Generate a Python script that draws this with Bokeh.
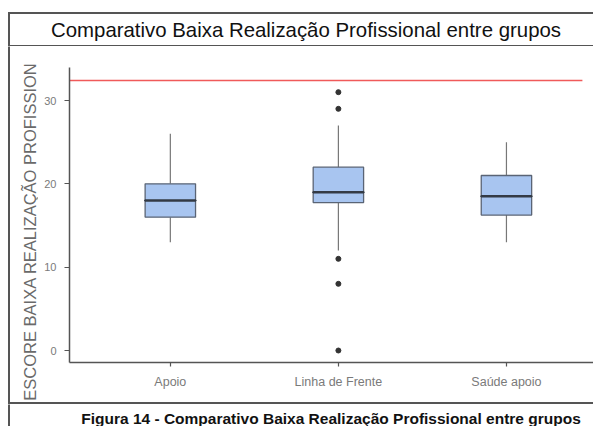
import math
from bokeh.plotting import figure
from bokeh.layouts import column, row
from bokeh.models import FixedTicker, Range1d, ColumnDataSource, Div
from bokeh.core.properties import value
from bokeh.embed import file_html
from bokeh.resources import INLINE

# ---- data ----
groups = ["Apoio", "Linha de Frente", "Saúde apoio"]
group_pos = [1, 2, 3]
whisker_low = [13, 12, 13]
q1 = [16, 17.75, 16.25]
median = [18, 19, 18.5]
q3 = [20, 22, 21]
whisker_high = [26, 27, 25]
outlier_group = [2, 2, 2, 2, 2]
outlier_value = [31, 29, 11, 8, 0]
cutoff = 32.4
y_ticks = [0, 10, 20, 30]

title_text = "Comparativo Baixa Realização Profissional entre grupos"
caption_text = "Figura 14 - Comparativo Baixa Realização Profissional entre grupos"
y_label = "ESCORE BAIXA REALIZAÇÃO PROFISSION"

FONT = "Liberation Sans"
BORDER = "#555555"
W, H = 593, 426
TOP_H, SEP_H, BOT_H = 46, 2, 22
MID_H = H - TOP_H - SEP_H - BOT_H
STRIP_W = 38


def deco_fig(w, h, y0, y1, align=True):
    f = figure(width=w, height=h, x_range=Range1d(0, w), y_range=Range1d(y1, y0),
               x_axis_type=None, y_axis_type=None, title=None,
               output_backend="svg", toolbar_location=None, min_border=0)
    f.grid.visible = False
    f.outline_line_color = None
    f.background_fill_color = "white"
    f.border_fill_color = "white"
    if not align:
        f.frame_align = False
    return f


# ---- top (title) strip ----
ft = deco_fig(W, TOP_H, 0, TOP_H)
ft.quad(left=[7.5, 7.5, 7.5], right=[W, 9.5, W], top=[11.5, 11.5, 44.5], bottom=[13.5, TOP_H, 46.5],
        fill_color=BORDER, line_color=None)
ft.text(x=[305.5], y=[29], text=[title_text], text_align="center", text_baseline="middle",
        text_font=value(FONT), text_font_size="20.4px", text_color="#111111")

# ---- left strip (border + y label) ----
fl = deco_fig(STRIP_W, MID_H, TOP_H, TOP_H + MID_H, align=False)
fl.quad(left=[7.5], right=[9.5], top=[TOP_H - 1], bottom=[TOP_H + MID_H + 1],
        fill_color=BORDER, line_color=None)
fl.text(x=[29], y=[231], text=[y_label], angle=math.pi / 2, text_align="center",
        text_baseline="middle", text_font=value(FONT), text_font_size="16.5px",
        text_color="#6a6a6a")

# ---- main plot ----
p = figure(width=W - STRIP_W, height=MID_H, x_range=Range1d(0.4, 3.518),
           y_range=Range1d(-1.44, 33.96), title=None,
           output_backend="svg", toolbar_location=None,
           min_border_left=31, min_border_right=0, min_border_top=21,
           min_border_bottom=TOP_H + MID_H - 362)
p.grid.visible = False
p.outline_line_color = None
p.background_fill_color = "white"
p.border_fill_color = "white"

for ax in (p.xaxis[0], p.yaxis[0]):
    ax.axis_line_color = "#555555"
    ax.axis_line_width = 1.5
    ax.major_tick_line_color = "#555555"
    ax.major_tick_line_width = 1.2
    ax.major_tick_in = 0
    ax.minor_tick_line_color = None
    ax.major_label_text_font = FONT
    ax.major_label_text_color = "#7a7a7a"
p.yaxis.major_tick_out = 5
p.yaxis.major_label_standoff = 8
p.yaxis.major_label_text_font_size = "11px"
p.xaxis.major_tick_out = 4
p.xaxis.major_label_standoff = 8
p.xaxis.major_label_text_font_size = "12.5px"

p.yaxis.ticker = FixedTicker(ticks=y_ticks)
p.xaxis.ticker = FixedTicker(ticks=group_pos)
p.xaxis.major_label_overrides = {pos: g for pos, g in zip(group_pos, groups)}

src = ColumnDataSource(dict(x=group_pos, lo=whisker_low, q1=q1, med=median, q3=q3, hi=whisker_high))

p.segment(x0=[0.4], y0=[cutoff], x1=[3.452], y1=[cutoff], line_color="#f05a5a", line_width=1.6)
p.segment(x0="x", y0="lo", x1="x", y1="q1", source=src, line_color="#777777", line_width=1.2)
p.segment(x0="x", y0="q3", x1="x", y1="hi", source=src, line_color="#777777", line_width=1.2)
p.vbar(x="x", width=0.3, bottom="q1", top="q3", source=src, fill_color="#a8c5f0",
       line_color="#5a6475", line_width=1.3)
p.rect(x="x", y="med", width=0.3, height=0.0001, source=src, line_color="#333a45", line_width=2.5)
p.scatter(x=outlier_group, y=outlier_value, size=5, color="#333333")

# ---- separator between plot and caption ----
sep = Div(text="", width=W - 8, height=SEP_H, margin=(0, 0, 0, 8),
          styles={"background-color": BORDER})

# ---- bottom (caption) strip ----
y_cap0 = TOP_H + MID_H + SEP_H
fb = deco_fig(W, BOT_H, y_cap0, H)
fb.quad(left=[7.5], right=[9.5], top=[y_cap0 - 1], bottom=[H],
        fill_color=BORDER, line_color=None)
fb.text(x=[330.5], y=[417.5], text=[caption_text], text_align="center", text_baseline="middle",
        text_font=value(FONT), text_font_size="15.5px", text_font_style="bold", text_color="#111111")

layout = column(ft, row(fl, p), sep, fb)
open("out.html", "w").write(file_html(layout, INLINE))
